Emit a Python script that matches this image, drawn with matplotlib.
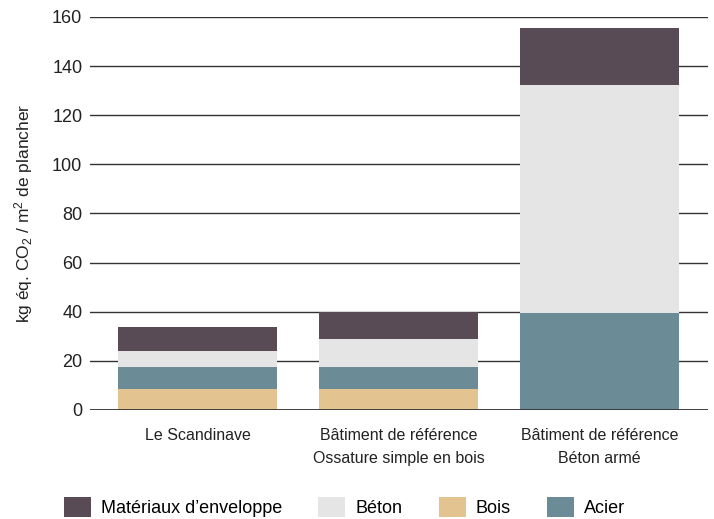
import matplotlib
matplotlib.use("Agg")
import matplotlib.pyplot as plt
import numpy as np

# data
categories = ["Le Scandinave",
              "Bâtiment de référence\nOssature simple en bois",
              "Bâtiment de référence\nBéton armé"]
bois = [8.7, 8.6, 0.0]
acier = [8.9, 8.9, 39.5]
beton = [6.5, 11.4, 92.8]
enveloppe = [9.7, 10.9, 23.2]

series_names = ["Bois", "Acier", "Béton", "Matériaux d’enveloppe"]
colors = {"Bois": "#e3c38f", "Acier": "#6b8b96",
          "Béton": "#e5e5e5", "Matériaux d’enveloppe": "#594b55"}
legend_order = ["Matériaux d’enveloppe", "Béton", "Bois", "Acier"]
yticks = [0, 20, 40, 60, 80, 100, 120, 140, 160]

plt.rcParams["font.family"] = ["Liberation Sans", "DejaVu Sans"]
plt.rcParams["mathtext.fontset"] = "custom"
plt.rcParams["mathtext.rm"] = "Liberation Sans"
plt.rcParams["mathtext.it"] = "Liberation Sans"

fig = plt.figure(figsize=(7.14, 5.19), dpi=100)
ax = fig.add_axes([90 / 714, 1 - 410 / 519, 618 / 714, 393 / 519])

x = np.arange(len(categories))
bottom = np.zeros(len(categories))
handles = {}
for name, vals in zip(series_names, [bois, acier, beton, enveloppe]):
    b = ax.bar(x, vals, width=0.79, bottom=bottom, color=colors[name],
               zorder=3, label=name)
    handles[name] = b
    bottom += np.array(vals)

# grid
ax.set_ylim(0, 160)
ax.set_xlim(-0.535, 2.54)
ax.set_yticks(yticks)
ax.yaxis.grid(True, color="#333333", linewidth=1.0, zorder=1)
ax.axhline(0, color="#333333", linewidth=2.0, zorder=4)
for s in ax.spines.values():
    s.set_visible(False)
ax.tick_params(axis="y", length=0, pad=5.5, labelsize=13, colors="#222222")
ax.tick_params(axis="x", length=0, pad=13, labelsize=11.5, colors="#222222")
ax.set_xticks(x)
ax.set_xticklabels(categories, linespacing=1.7)
ax.set_ylabel("kg éq. CO$_2$ / m$^2$ de plancher", fontsize=12.5,
              color="#222222", labelpad=12)

fig.legend([handles[n] for n in legend_order], legend_order,
           loc="center left", bbox_to_anchor=(64 / 714, 1 - 507 / 519),
           ncol=4, frameon=False, fontsize=13, handlelength=1.5,
           handleheight=1.33, handletextpad=0.55, columnspacing=2.0,
           borderpad=0, borderaxespad=0)

fig.savefig("out.png", dpi=100)
